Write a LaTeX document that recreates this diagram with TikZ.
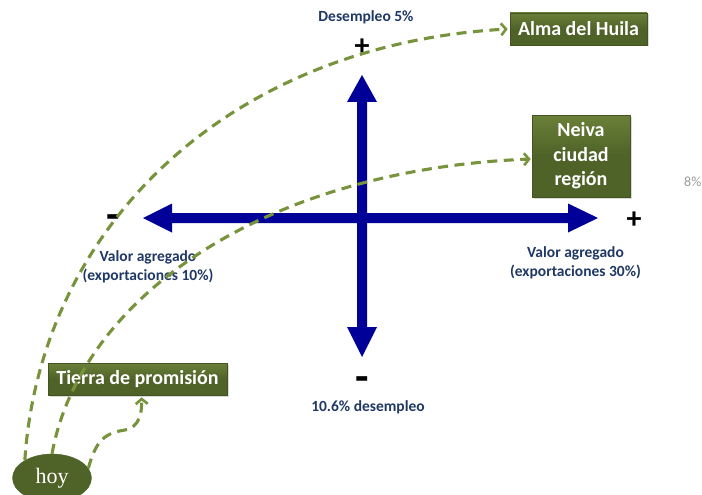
\documentclass[tikz,border=0pt]{standalone}
\usepackage{fontspec}
\setmainfont{Carlito}
\newfontfamily\hoyfont{Liberation Serif}
\usetikzlibrary{arrows.meta,shadows,shapes.geometric}
\definecolor{axisblue}{HTML}{000099}
\definecolor{boxgreen}{HTML}{4F6228}
\definecolor{boxlight}{HTML}{6A8038}
\definecolor{dashgreen}{HTML}{77933C}
\definecolor{labelblue}{HTML}{1F3864}
\begin{document}
\begin{tikzpicture}[x=1pt,y=-1pt,
  box/.style={top color=boxlight, bottom color=boxgreen, middle color=boxgreen,
    draw=boxgreen!85!black, line width=0.6pt, text=white,
    font=\fontsize{20}{24.5}\selectfont\bfseries, align=center, inner sep=0pt,
    drop shadow={shadow xshift=1.5pt, shadow yshift=-1.5pt, opacity=0.3}},
  lbl/.style={text=labelblue, font=\fontsize{15.5}{19}\selectfont\bfseries, align=center, inner sep=0pt},
  sign/.style={text=black, font=\fontsize{30}{30}\selectfont\bfseries, inner sep=0pt},
  msign/.style={text=black, font=\fontsize{44}{44}\selectfont\bfseries, inner sep=0pt},
  path/.style={draw=dashgreen, line width=3.1pt, dash pattern=on 10pt off 6.5pt,
    -{Straight Barb[length=5pt,width=12pt,line width=2.6pt]}}
]
\useasboundingbox (0,0) rectangle (702,495);

% axes
\fill[axisblue] (143,218) -- (172,203.5) -- (172,213) -- (568,213) -- (568,203.5) -- (598,218)
  -- (568,232.5) -- (568,223) -- (172,223) -- (172,232.5) -- cycle;
\fill[axisblue] (362,75) -- (377,102) -- (367,102) -- (367,327) -- (377,327) -- (362,357)
  -- (347,327) -- (357,327) -- (357,102) -- (347,102) -- cycle;

% signs
\node[sign] (ptop) at (362,47) {+};
\node[msign] (mleft) at (113,222) {-};
\node[sign] (pright) at (634,220) {+};
\node[msign] (mbot) at (362,384) {-};

% labels
\node[lbl] (d5) at (366,17) {Desempleo 5\%};
\node[lbl] (v10) at (148,267) {Valor agregado\\(exportaciones 10\%)};
\node[lbl] (v30) at (575.5,262.5) {Valor agregado\\(exportaciones 30\%)};
\node[lbl] (d106) at (368,407) {10.6\% desempleo};
\node[text=black!40, font=\fontsize{14}{14}\selectfont, anchor=west, inner sep=0pt] (p8) at (684,182) {8\%};

% boxes
\node[box, minimum width=137pt, minimum height=32pt] (alma) at (578.5,29) {Alma del Huila};
\node[box, minimum width=98pt, minimum height=82pt] (neiva) at (581,156) {Neiva\\ciudad\\región};
\node[box, minimum width=179pt, minimum height=32pt] (tierra) at (137.5,379) {Tierra de promisión};
\node[ellipse, fill=boxgreen, draw=boxgreen, text=white, minimum width=79pt, minimum height=48pt,
  inner sep=0pt, font=\hoyfont\fontsize{22}{22}\selectfont] (hoy) at (52,478) {hoy};

% dashed connectors
\coordinate (mid3) at (125,430);
\draw[path] (hoy.147) .. controls (40,230) and (225,45) .. ([xshift=-2pt]alma.west);
\draw[path] (hoy.north) .. controls (80,300) and (260,170) .. ([xshift=-1pt,yshift=-3pt]neiva.west);
\draw[path] (hoy.15) .. controls (96,440) and (105,433) .. (mid3)
  .. controls (140,427) and (142,412) .. ([xshift=4pt,yshift=-2pt]tierra.south);
\end{tikzpicture}
\end{document}
